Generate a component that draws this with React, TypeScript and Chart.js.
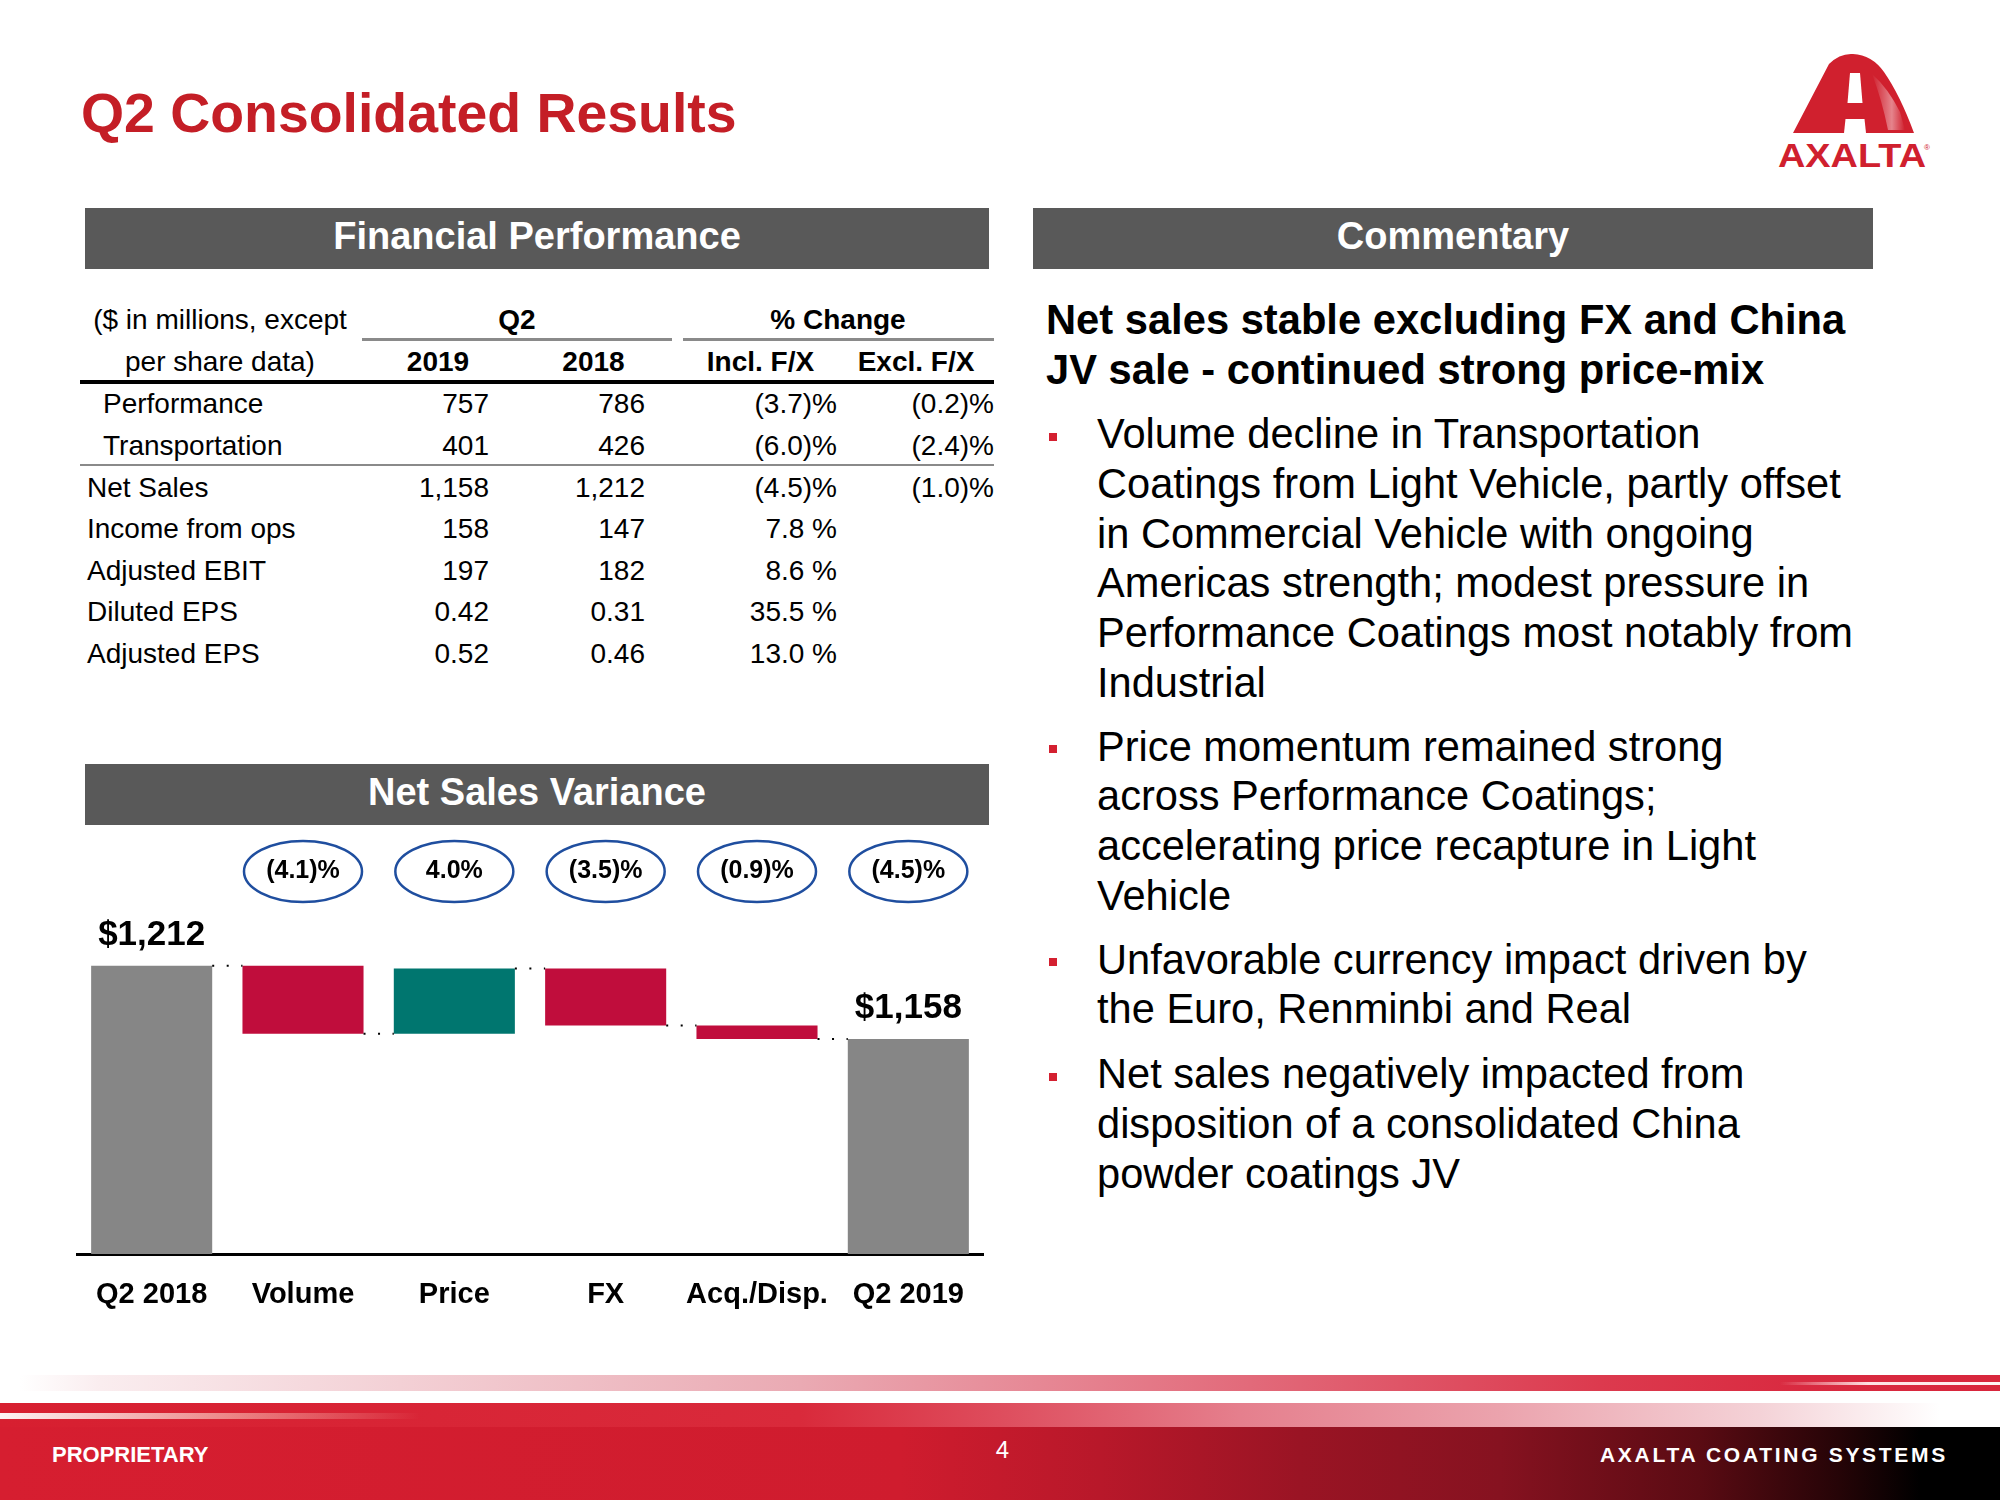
import React, { useEffect, useRef } from "react";
import { Chart, registerables } from "chart.js";

Chart.register(...registerables);

const FONT = '"Liberation Sans", Arial, Helvetica, sans-serif';

// ---------- Waterfall data ----------
const categories = ["Q2 2018", "Volume", "Price", "FX", "Acq./Disp.", "Q2 2019"];
const startTotal = 1212;
const endTotal = 1158;
const deltaValues = [-50, 48, -42, -10]; // Volume, Price, FX, Acq./Disp.
const pctLabels = ["(4.1)%", "4.0%", "(3.5)%", "(0.9)%", "(4.5)%"];
const totalLabels = ["$1,212", "$1,158"];
const barColors = ["#868686", "#C00D3C", "#00766F", "#C00D3C", "#C00D3C", "#868686"];
const yMin = 1000;
const yMax = 1300;

// ---------- Table data ----------
const rowLabels = ["Performance", "Transportation", "Net Sales", "Income from ops", "Adjusted EBIT", "Diluted EPS", "Adjusted EPS"];
const rowIndented = [true, true, false, false, false, false, false];
const values2019 = ["757", "401", "1,158", "158", "197", "0.42", "0.52"];
const values2018 = ["786", "426", "1,212", "147", "182", "0.31", "0.46"];
const inclFX = ["(3.7)%", "(6.0)%", "(4.5)%", "7.8 %", "8.6 %", "35.5 %", "13.0 %"];
const exclFX = ["(0.2)%", "(2.4)%", "(1.0)%", "", "", "", ""];

// ---------- Commentary ----------
const headingLines = ["Net sales stable excluding FX and China", "JV sale - continued strong price-mix"];
const bullets = [
  ["Volume decline in Transportation", "Coatings from Light Vehicle, partly offset", "in Commercial Vehicle with ongoing", "Americas strength; modest pressure in", "Performance Coatings most notably from", "Industrial"],
  ["Price momentum remained strong", "across Performance Coatings;", "accelerating price recapture in Light", "Vehicle"],
  ["Unfavorable currency impact driven by", "the Euro, Renminbi and Real"],
  ["Net sales negatively impacted from", "disposition of a consolidated China", "powder coatings JV"],
];
const bulletBaselines = [448.5, 761, 974, 1088.8];

function buildWaterfall() {
  const data: [number, number][] = [[yMin, startTotal]];
  const levels: number[] = [startTotal];
  let run = startTotal;
  for (const d of deltaValues) {
    const next = run + d;
    data.push([Math.min(run, next), Math.max(run, next)]);
    run = next;
    levels.push(run);
  }
  data.push([yMin, endTotal]);
  return { data, levels };
}

type TxtProps = {
  x: number;
  base: number;
  size: number;
  bold?: boolean;
  align?: "left" | "center" | "right";
  color?: string;
  text: string;
  ls?: number;
};

function Txt({ x, base, size, bold, align = "left", color = "#000", text, ls }: TxtProps) {
  const lh = size * 1.2;
  const top = base - ((lh - 1.117 * size) / 2 + 0.905 * size);
  const W = 900;
  let left = x;
  if (align === "center") left = x - W / 2;
  if (align === "right") left = x - W;
  return (
    <div
      style={{
        position: "absolute",
        left,
        top,
        width: W,
        textAlign: align,
        fontFamily: FONT,
        fontSize: size,
        fontWeight: bold ? 700 : 400,
        lineHeight: lh + "px",
        color,
        whiteSpace: "pre",
        letterSpacing: ls,
      }}
    >
      {text}
    </div>
  );
}

function Box({ x, y, w, h, bg }: { x: number; y: number; w: number; h: number; bg: string }) {
  return <div style={{ position: "absolute", left: x, top: y, width: w, height: h, background: bg }} />;
}

function WaterfallChart() {
  const ref = useRef<HTMLCanvasElement>(null);
  useEffect(() => {
    const { data, levels } = buildWaterfall();
    const extras = {
      id: "waterfallExtras",
      afterDatasetsDraw(chart: any) {
        const ctx = chart.ctx;
        const meta = chart.getDatasetMeta(0);
        const yScale = chart.scales.y;
        const area = chart.chartArea;
        ctx.save();
        // dotted connectors
        ctx.strokeStyle = "#000";
        ctx.lineWidth = 2;
        ctx.setLineDash([2, 12.5]);
        for (let i = 0; i < meta.data.length - 1; i++) {
          const a = meta.data[i];
          const b = meta.data[i + 1];
          const y = yScale.getPixelForValue(levels[i]);
          ctx.beginPath();
          ctx.moveTo(a.x + a.width / 2, y);
          ctx.lineTo(b.x - b.width / 2, y);
          ctx.stroke();
        }
        ctx.setLineDash([]);
        // percentage ellipses
        for (let i = 1; i < meta.data.length; i++) {
          const el = meta.data[i];
          const cy = area.top + 25.5;
          ctx.beginPath();
          ctx.ellipse(el.x, cy, 59, 30.5, 0, 0, Math.PI * 2);
          ctx.strokeStyle = "#1F4E9F";
          ctx.lineWidth = 2.5;
          ctx.stroke();
          ctx.fillStyle = "#000";
          ctx.font = "bold 25px " + FONT;
          ctx.textAlign = "center";
          ctx.textBaseline = "middle";
          ctx.fillText(pctLabels[i - 1], el.x, cy);
        }
        // total labels
        const totals = [meta.data[0], meta.data[meta.data.length - 1]];
        ctx.font = "bold 35px " + FONT;
        ctx.textAlign = "center";
        ctx.textBaseline = "alphabetic";
        ctx.fillStyle = "#000";
        totals.forEach((el: any, k: number) => {
          ctx.fillText(totalLabels[k], el.x, el.y - 21);
        });
        ctx.restore();
      },
    };
    const chart = new Chart(ref.current as HTMLCanvasElement, {
      type: "bar",
      data: {
        labels: categories,
        datasets: [
          {
            data: data as any,
            backgroundColor: barColors,
            borderWidth: 0,
            barPercentage: 0.8,
            categoryPercentage: 1,
          },
        ],
      },
      options: {
        animation: false,
        responsive: false,
        maintainAspectRatio: false,
        events: [],
        layout: { padding: { top: 26, left: 0, right: 0, bottom: 0 } },
        plugins: {
          legend: { display: false },
          tooltip: { enabled: false },
          title: { display: false },
        },
        scales: {
          x: {
            grid: { display: false, drawTicks: false },
            border: { display: true, color: "#000", width: 3 },
            ticks: {
              color: "#000",
              font: { family: FONT, size: 29, weight: "bold", lineHeight: 2 },
              padding: 12,
              maxRotation: 0,
              autoSkip: false,
            },
            afterFit: (s: any) => {
              s.height = 80;
            },
          },
          y: { display: false, min: yMin, max: yMax },
        },
      } as any,
      plugins: [extras],
    });
    return () => chart.destroy();
  }, []);
  return (
    <canvas
      ref={ref}
      width={908}
      height={514}
      style={{ position: "absolute", left: 76, top: 820, width: 908, height: 514 }}
    />
  );
}

function Logo() {
  return (
    <svg style={{ position: "absolute", left: 1750, top: 40 }} width={250} height={140} viewBox="0 0 250 140">
      <defs>
        <linearGradient id="sheen" x1="0" y1="0" x2="1" y2="0">
          <stop offset="0" stopColor="#ffffff" stopOpacity="0" />
          <stop offset="0.6" stopColor="#ffffff" stopOpacity="0.45" />
          <stop offset="1" stopColor="#ffffff" stopOpacity="0" />
        </linearGradient>
      </defs>
      <path d="M43,93 L79,24 Q90,13 103,14 Q122,15 134,32 Q150,55 164,93 Z" fill="#D0202E" />
      <path d="M122,34 Q138,48 150,72 L155,90 L138,90 Q132,60 122,34 Z" fill="url(#sheen)" />
      <polygon points="100,33 110,33 112.5,63 97.5,63" fill="#fff" />
      <polygon points="95.5,79 114.5,79 116,93 94,93" fill="#fff" />
      <text
        x="28"
        y="127.3"
        textLength="148"
        lengthAdjust="spacingAndGlyphs"
        fontFamily={FONT}
        fontWeight="bold"
        fontSize="32.5"
        fill="#D0202E"
      >
        AXALTA
      </text>
      <text x="174" y="110" fontFamily={FONT} fontSize="8" fill="#D0202E">
        ®
      </text>
    </svg>
  );
}

export default function App() {
  const rowBase = (i: number) => 414 + i * 41.6;
  return (
    <div
      style={{
        position: "absolute",
        left: 0,
        top: 0,
        width: 2000,
        height: 1500,
        overflow: "hidden",
        background: "#fff",
        fontFamily: FONT,
      }}
    >
      {/* Title */}
      <Txt x={81} base={132.5} size={55.4} bold color="#C41E26" text="Q2 Consolidated Results" />
      <Logo />

      {/* Section headers */}
      <Box x={85} y={208} w={904} h={61} bg="#595959" />
      <Txt x={537} base={249.5} size={38} bold color="#fff" align="center" text="Financial Performance" />
      <Box x={1033} y={208} w={840} h={61} bg="#595959" />
      <Txt x={1453} base={249.5} size={38} bold color="#fff" align="center" text="Commentary" />
      <Box x={85} y={764} w={904} h={61} bg="#595959" />
      <Txt x={537} base={806} size={38} bold color="#fff" align="center" text="Net Sales Variance" />

      {/* Table headers */}
      <Txt x={220} base={329.5} size={28} align="center" text="($ in millions, except" />
      <Txt x={220} base={371.5} size={28} align="center" text="per share data)" />
      <Txt x={517} base={329.5} size={28} bold align="center" text="Q2" />
      <Txt x={838} base={329.5} size={28} bold align="center" text="% Change" />
      <Box x={362} y={338} w={310} h={2.5} bg="#8a8a8a" />
      <Box x={683} y={338} w={311} h={2.5} bg="#8a8a8a" />
      <Txt x={438} base={371.5} size={28} bold align="center" text="2019" />
      <Txt x={593.5} base={371.5} size={28} bold align="center" text="2018" />
      <Txt x={760.5} base={371.5} size={28} bold align="center" text="Incl. F/X" />
      <Txt x={916} base={371.5} size={28} bold align="center" text="Excl. F/X" />
      <Box x={80} y={380} w={914} h={4} bg="#000" />
      <Box x={80} y={463.5} w={914} h={2.5} bg="#8a8a8a" />

      {/* Table rows */}
      {rowLabels.map((lab, i) => (
        <React.Fragment key={lab}>
          <Txt x={rowIndented[i] ? 103 : 87} base={rowBase(i)} size={28} text={lab} />
          <Txt x={489} base={rowBase(i)} size={28} align="right" text={values2019[i]} />
          <Txt x={645} base={rowBase(i)} size={28} align="right" text={values2018[i]} />
          <Txt x={837} base={rowBase(i)} size={28} align="right" text={inclFX[i]} />
          {exclFX[i] ? <Txt x={994} base={rowBase(i)} size={28} align="right" text={exclFX[i]} /> : null}
        </React.Fragment>
      ))}

      {/* Commentary */}
      {headingLines.map((l, i) => (
        <Txt key={"h" + i} x={1046} base={334.5 + i * 49.7} size={41.7} bold text={l} />
      ))}
      {bullets.map((lines, b) => (
        <React.Fragment key={"b" + b}>
          <Box x={1049} y={bulletBaselines[b] - 16} w={8} h={8} bg="#D42030" />
          {lines.map((l, i) => (
            <Txt key={i} x={1097} base={bulletBaselines[b] + i * 49.7} size={41.6} text={l} />
          ))}
        </React.Fragment>
      ))}

      {/* Waterfall chart */}
      <WaterfallChart />

      {/* Footer */}
      <Box
        x={0}
        y={1375}
        w={2000}
        h={16}
        bg="linear-gradient(to right, #ffffff 1%, #faedef 5%, #f3d0d5 20%, #eaaab3 40%, #e57f8d 55%, #df5567 70%, #dc3a4e 80%, #d92a40 90%, #d8263c 100%)"
      />
      <Box
        x={1780}
        y={1382}
        w={220}
        h={3}
        bg="linear-gradient(to right, rgba(255,235,235,0), rgba(255,235,235,0.95) 40%, rgba(255,245,245,1))"
      />
      <Box
        x={0}
        y={1403}
        w={2000}
        h={24}
        bg="linear-gradient(to right, #d71f30 0%, #d92a3b 40%, #de4d5d 50%, #e57f8d 62%, #eba3ad 75%, #f4d2d7 88%, #ffffff 97%)"
      />
      <Box
        x={0}
        y={1413}
        w={420}
        h={6}
        bg="linear-gradient(to right, rgba(255,255,255,0.95), rgba(250,200,190,0.6) 55%, rgba(255,200,200,0))"
      />
      <Box
        x={0}
        y={1427}
        w={2000}
        h={73}
        bg="linear-gradient(to right, #d61e30 0%, #cf1c2e 45%, #b8182a 55%, #9a1424 65%, #861220 75%, #5a0b13 85%, #250407 92%, #000000 96%)"
      />
      <Txt x={52} base={1463} size={22} bold color="#fff" text="PROPRIETARY" />
      <Txt x={1002.5} base={1458.6} size={24} color="#fff" align="center" text="4" />
      <Txt x={1600} base={1461.7} size={21} bold color="#fff" ls={2.7} text="AXALTA COATING SYSTEMS" />
    </div>
  );
}
